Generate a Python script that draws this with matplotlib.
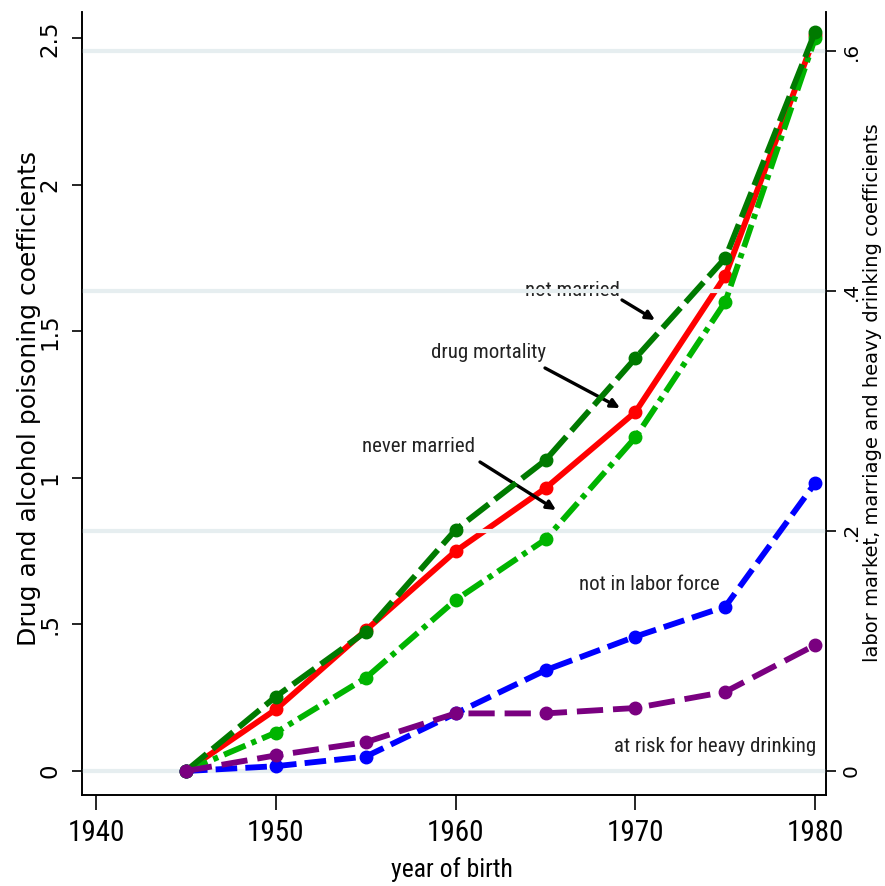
import matplotlib
matplotlib.use("Agg")
import matplotlib.pyplot as plt
from matplotlib import font_manager

years = [1945, 1950, 1955, 1960, 1965, 1970, 1975, 1980]
drug_mortality = [0.0, 0.21, 0.48, 0.75, 0.965, 1.225, 1.69, 2.51]
not_married = [0.0, 0.062, 0.116, 0.201, 0.259, 0.344, 0.4275, 0.616]
never_married = [0.0, 0.032, 0.0775, 0.1425, 0.193, 0.278, 0.391, 0.611]
not_in_labor_force = [0.0, 0.004, 0.012, 0.048, 0.084, 0.112, 0.137, 0.24]
heavy_drinking = [0.0, 0.013, 0.024, 0.048, 0.048, 0.0525, 0.066, 0.105]

x_ticks = [1940, 1950, 1960, 1970, 1980]
left_ticks = [0, 0.5, 1, 1.5, 2, 2.5]
left_ticklabels = ["0", ".5", "1", "1.5", "2", "2.5"]
right_ticks = [0, 0.2, 0.4, 0.6]
right_ticklabels = ["0", ".2", ".4", ".6"]

names = {f.name for f in font_manager.fontManager.ttflist}
narrow = "Roboto Condensed" if "Roboto Condensed" in names else (
    "Liberation Sans Narrow" if "Liberation Sans Narrow" in names else "Liberation Sans")
wide = "DejaVu Sans"

fig = plt.figure(figsize=(8.85, 8.86), dpi=100)
# plot area: x 82..826 px, y 12..795 px
ax = fig.add_axes([82 / 885, 1 - 795 / 886, (826 - 82) / 885, (795 - 12) / 886])
ax2 = ax.twinx()

ax.set_xlim(1939.22, 1980.6)
ax.set_ylim(-0.082, 2.59)
ax2.set_ylim(-0.02, 0.6325)

# gridlines (right axis ticks)
for t in right_ticks:
    ax2.axhline(t, color="#e6eef0", lw=3, zorder=0)

lw = 4.2
ms = 9
ax.plot(years, drug_mortality, color="#ff0000", lw=lw, marker="o", ms=ms, zorder=3)
ax2.plot(years, not_married, color="#007a00", lw=lw, marker="o", ms=ms, linestyle=(0, (4.6, 1.3)), zorder=4)
ax2.plot(years, never_married, color="#00b400", lw=lw, marker="o", ms=ms, linestyle=(0, (4.0, 1.1, 0.9, 1.1)), zorder=3)
ax2.plot(years, not_in_labor_force, color="#0000ff", lw=lw, marker="o", ms=ms, linestyle=(0, (3.7, 1.4)), zorder=3)
ax2.plot(years, heavy_drinking, color="#7a0080", lw=lw, marker="o", ms=ms, linestyle=(0, (4.5, 1.7)), zorder=4)

ax.patch.set_visible(False)
for a in (ax, ax2):
    a.spines["top"].set_visible(False)
    for s in ("left", "right", "bottom"):
        a.spines[s].set_linewidth(1.2)

ax.set_xticks(x_ticks)
ax.set_xticklabels([str(v) for v in x_ticks], fontfamily=narrow, fontsize=21)
ax.set_yticks(left_ticks)
ax.set_yticklabels(left_ticklabels, fontfamily=wide, fontsize=16.5, rotation=90, va="center")
ax2.set_yticks(right_ticks)
ax2.set_yticklabels(right_ticklabels, fontfamily=wide, fontsize=14.5, rotation=90, va="center")
ax.tick_params(axis="x", length=11, width=1.2, pad=6)
ax.tick_params(axis="y", length=7.5, width=1.2, pad=7)
ax2.tick_params(axis="y", length=7.5, width=1.2, pad=4)

fig.text(452 / 885, 1 - 870 / 886, "year of birth", fontfamily=narrow, fontsize=18.5, ha="center", va="center")
fig.text(29 / 885, 1 - 399 / 886, "Drug and alcohol poisoning coefficients", fontfamily=wide, fontsize=18,
         rotation=90, ha="center", va="center")
fig.text(873 / 885, 1 - 393 / 886, "labor market, marriage and heavy drinking coefficients", fontfamily=wide,
         fontsize=14, rotation=90, ha="center", va="center")

def px(xp, yp):
    return ax.transData.inverted().transform(fig.transFigure.transform((xp / 885, 1 - yp / 886)))

fs = 15
tc = "#222222"
ax.text(*px(572, 290), "not married", fontfamily=narrow, fontsize=fs, ha="center", va="center", color=tc)
ax.text(*px(489, 352), "drug mortality", fontfamily=narrow, fontsize=fs, ha="center", va="center", color=tc)
ax.text(*px(419, 447), "never married", fontfamily=narrow, fontsize=fs, ha="center", va="center", color=tc)
ax.text(*px(649, 585), "not in labor force", fontfamily=narrow, fontsize=fs, ha="center", va="center", color=tc)
ax.text(*px(715, 746), "at risk for heavy drinking", fontfamily=narrow, fontsize=fs, ha="center", va="center", color=tc)

arrowprops = dict(arrowstyle="-|>", color="black", lw=2.4, mutation_scale=13, shrinkA=0, shrinkB=0)
for (x0, y0, x1, y1) in [(622, 300, 655, 320), (545, 368, 620, 408), (480, 462, 556, 510)]:
    ax.annotate("", xy=px(x1, y1), xytext=px(x0, y0), arrowprops=arrowprops)

fig.savefig("out.png", dpi=100)
